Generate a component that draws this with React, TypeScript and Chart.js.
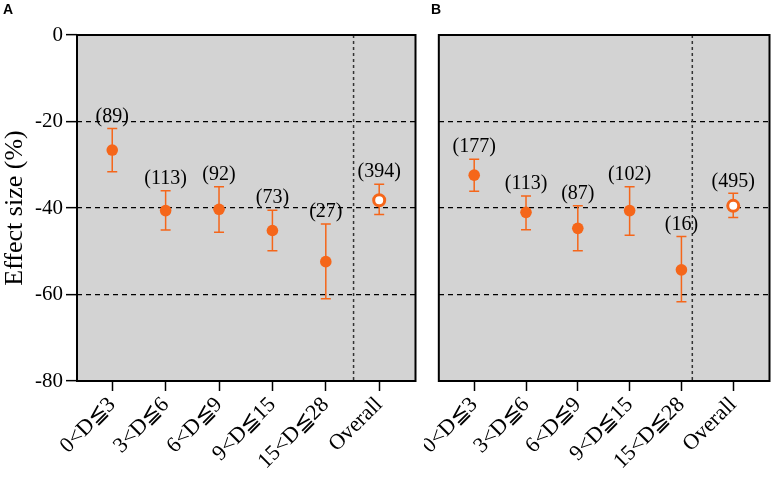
import React, { useRef, useEffect } from 'react';
import Chart from 'chart.js/auto';

// categories and tick labels
const categories = ['0<D≦3', '3<D≦6', '6<D≦9', '9<D≦15', '15<D≦28', 'Overall'];
const yTicks = [0, -20, -40, -60, -80];

// panel A
const meanA = [-26.6, -40.6, -40.3, -45.2, -52.4, -38.2];
const lowerA = [-31.6, -45.1, -45.6, -49.9, -61.0, -41.5];
const upperA = [-21.6, -36.0, -35.1, -40.5, -43.7, -34.5];
const countsA = [89, 113, 92, 73, 27, 394];
const dividerA = 5.52;

// panel B
const meanB = [-32.4, -41.0, -44.7, -40.6, -54.3, -39.5];
const lowerB = [-36.1, -45.0, -49.9, -46.3, -61.7, -42.2];
const upperB = [-28.7, -37.2, -39.5, -35.1, -46.6, -36.6];
const countsB = [177, 113, 87, 102, 16, 495];
const dividerB = 5.21;

const ORANGE = '#f5661a';
const SERIF = '"Liberation Serif", "Times New Roman", serif';

interface PanelProps {
    letter: string;
    width: number;
    mean: number[];
    lower: number[];
    upper: number[];
    counts: number[];
    divider: number;
    xMin: number;
    xMax: number;
    showY: boolean;
    letterX: number;
}

const Panel: React.FC<PanelProps> = (props) => {
    const canvasRef = useRef<HTMLCanvasElement | null>(null);
    const chartRef = useRef<Chart | null>(null);

    useEffect(() => {
        if (!canvasRef.current) return;
        const { letter, mean, lower, upper, counts, divider, xMin, xMax, showY, letterX } = props;

        if (chartRef.current) chartRef.current.destroy();

        const panelPlugin = {
            id: 'panel',
            beforeDraw(chart: any) {
                const { ctx, chartArea: a } = chart;
                ctx.save();
                ctx.fillStyle = '#d3d3d3';
                ctx.fillRect(a.left, a.top, a.right - a.left, a.bottom - a.top);
                ctx.restore();
            },
            beforeDatasetsDraw(chart: any) {
                const { ctx, chartArea: a, scales } = chart;
                const xs = scales.x;
                const ys = scales.y;
                ctx.save();
                // vertical divider
                const dx = xs.getPixelForValue(divider);
                ctx.strokeStyle = '#333';
                ctx.lineWidth = 1.5;
                ctx.setLineDash([3, 3]);
                ctx.beginPath();
                ctx.moveTo(dx, a.top);
                ctx.lineTo(dx, a.bottom);
                ctx.stroke();
                // error bars
                ctx.setLineDash([]);
                ctx.strokeStyle = ORANGE;
                ctx.lineWidth = 1.5;
                mean.forEach((_, i) => {
                    const x = xs.getPixelForValue(i + 1);
                    const yl = ys.getPixelForValue(lower[i]);
                    const yu = ys.getPixelForValue(upper[i]);
                    ctx.beginPath();
                    ctx.moveTo(x, yl);
                    ctx.lineTo(x, yu);
                    ctx.moveTo(x - 5, yl);
                    ctx.lineTo(x + 5, yl);
                    ctx.moveTo(x - 5, yu);
                    ctx.lineTo(x + 5, yu);
                    ctx.stroke();
                });
                ctx.restore();
            },
            afterDatasetsDraw(chart: any) {
                const { ctx, scales } = chart;
                ctx.save();
                ctx.fillStyle = '#000';
                ctx.font = `20px ${SERIF}`;
                ctx.textAlign = 'center';
                ctx.textBaseline = 'middle';
                counts.forEach((n, i) => {
                    const x = scales.x.getPixelForValue(i + 1);
                    const y = scales.y.getPixelForValue(upper[i]) - 12;
                    ctx.fillText(`(${n})`, x, y);
                });
                ctx.restore();
            },
            afterDraw(chart: any) {
                const { ctx, chartArea: a } = chart;
                ctx.save();
                ctx.strokeStyle = '#000';
                ctx.lineWidth = 2;
                ctx.strokeRect(a.left, a.top, a.right - a.left, a.bottom - a.top);
                ctx.fillStyle = '#000';
                ctx.font = 'bold 14px "Liberation Sans", Arial, sans-serif';
                ctx.textAlign = 'left';
                ctx.textBaseline = 'alphabetic';
                ctx.fillText(letter, letterX, 14);
                ctx.restore();
            },
        };

        chartRef.current = new Chart(canvasRef.current, {
            type: 'scatter',
            data: {
                datasets: [
                    {
                        data: mean.map((y, i) => ({ x: i + 1, y })),
                        pointBackgroundColor: categories.map(c => (c === 'Overall' ? '#ffffff' : ORANGE)),
                        pointBorderColor: ORANGE,
                        pointBorderWidth: categories.map(c => (c === 'Overall' ? 3 : 0)),
                        pointRadius: categories.map(c => (c === 'Overall' ? 5.5 : 5.8)),
                    },
                ],
            },
            plugins: [panelPlugin],
            options: {
                responsive: false,
                animation: false,
                devicePixelRatio: 1,
                layout: { padding: { top: 35, right: 3, left: showY ? 0 : 3, bottom: 0 } },
                plugins: {
                    legend: { display: false },
                    tooltip: { enabled: false },
                },
                scales: {
                    x: {
                        type: 'linear',
                        min: xMin,
                        max: xMax,
                        afterBuildTicks: (s: any) => {
                            s.ticks = categories.map((_, i) => ({ value: i + 1 }));
                        },
                        afterFit: (s: any) => {
                            s.height = 99;
                        },
                        border: { display: false },
                        grid: {
                            drawOnChartArea: false,
                            drawTicks: true,
                            tickLength: 10,
                            tickWidth: 1.5,
                            tickColor: '#000',
                            color: '#000',
                        },
                        ticks: {
                            autoSkip: false,
                            minRotation: 45,
                            maxRotation: 45,
                            padding: 1,
                            color: '#000',
                            font: { family: SERIF, size: 22 },
                            callback: (v: any) => categories[Math.round(Number(v)) - 1],
                        },
                    },
                    y: {
                        min: -80,
                        max: 0,
                        afterBuildTicks: (s: any) => {
                            s.ticks = yTicks.map(v => ({ value: v }));
                        },
                        afterFit: (s: any) => {
                            s.width = showY ? 77 : 0;
                        },
                        border: { display: false, dash: [5, 4] },
                        grid: {
                            color: (c: any) =>
                                c.tick && (c.tick.value === 0 || c.tick.value === -80) ? 'rgba(0,0,0,0)' : '#000',
                            lineWidth: 1.3,
                            drawTicks: showY,
                            tickLength: 11,
                            tickWidth: 1.5,
                            tickColor: '#000',
                            tickBorderDash: [],
                        },
                        ticks: {
                            display: showY,
                            padding: 3,
                            color: '#000',
                            font: { family: SERIF, size: 21 },
                        },
                        title: {
                            display: showY,
                            text: 'Effect size (%)',
                            color: '#000',
                            font: { family: SERIF, size: 26 },
                            padding: { top: 0, bottom: 0 },
                        },
                    },
                },
            },
        } as any);

        return () => {
            if (chartRef.current) {
                chartRef.current.destroy();
                chartRef.current = null;
            }
        };
    }, []);

    return (
        <canvas
            ref={canvasRef}
            width={props.width}
            height={480}
            style={{ width: props.width, height: 480, display: 'block' }}
        ></canvas>
    );
};

const App: React.FC = () => {
    useEffect(() => {
        document.body.style.margin = '0';
    }, []);

    return (
        <div style={{ display: 'flex', width: 778, height: 480, background: '#fff' }}>
            <Panel
                letter="A"
                width={424}
                mean={meanA}
                lower={lowerA}
                upper={upperA}
                counts={countsA}
                divider={dividerA}
                xMin={0.34}
                xMax={6.68}
                showY={true}
                letterX={3}
            />
            <Panel
                letter="B"
                width={354}
                mean={meanB}
                lower={lowerB}
                upper={upperB}
                counts={countsB}
                divider={dividerB}
                xMin={0.317}
                xMax={6.7}
                showY={false}
                letterX={7}
            />
        </div>
    );
};

export default App;
